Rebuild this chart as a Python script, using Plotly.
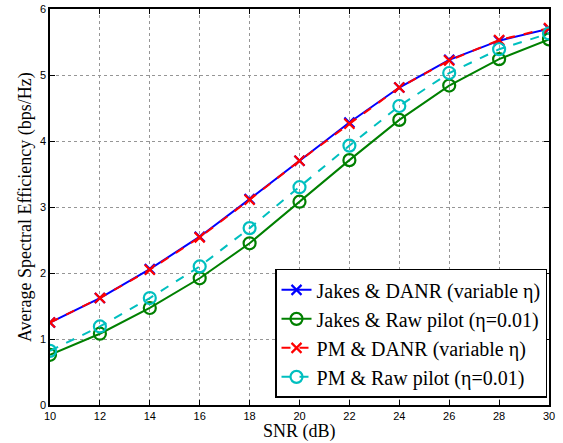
import plotly.graph_objects as go

# SNR sweep (dB)
snr = [10, 12, 14, 16, 18, 20, 22, 24, 26, 28, 30]

# Average spectral efficiency (bps/Hz) per scheme
jakes_danr = [1.25, 1.62, 2.06, 2.55, 3.12, 3.70, 4.28, 4.81, 5.23, 5.52, 5.70]
jakes_raw = [0.76, 1.08, 1.47, 1.92, 2.45, 3.08, 3.71, 4.32, 4.84, 5.24, 5.54]
pm_danr = [1.25, 1.62, 2.05, 2.54, 3.11, 3.70, 4.26, 4.81, 5.22, 5.53, 5.71]
pm_raw = [0.82, 1.19, 1.62, 2.10, 2.68, 3.30, 3.93, 4.53, 5.03, 5.39, 5.63]

x_ticks = [10, 12, 14, 16, 18, 20, 22, 24, 26, 28, 30]
y_ticks = [0, 1, 2, 3, 4, 5, 6]

x_title = "SNR (dB)"
y_title = "Average Spectral Efficiency (bps/Hz)"

SERIF = "Liberation Serif"
SANS = "Liberation Sans"

series = [
    ("Jakes & DANR (variable η)", jakes_danr, "rgb(0,0,255)", "solid", "x-thin", 10),
    ("Jakes & Raw pilot (η=0.01)", jakes_raw, "rgb(0,128,0)", "solid", "circle-open", 12),
    ("PM & DANR (variable η)", pm_danr, "rgb(255,0,0)", "dash", "x-thin", 10),
    ("PM & Raw pilot (η=0.01)", pm_raw, "rgb(0,191,191)", "dash", "circle-open", 12),
]

fig = go.Figure()
for name, ys, color, dash, symbol, size in series:
    fig.add_trace(go.Scatter(
        x=snr, y=ys, name=name, mode="lines+markers",
        line=dict(color=color, width=2, dash=dash),
        marker=dict(symbol=symbol, size=size, color=color,
                    line=dict(color=color, width=2.2)),
    ))

axis_common = dict(
    showline=True, linecolor="black", linewidth=1.5, mirror="ticks",
    ticks="inside", ticklen=5, tickcolor="black",
    showgrid=True, gridcolor="rgb(150,150,150)", griddash="dot", gridwidth=1,
    zeroline=False,
    tickfont=dict(family=SANS, size=11, color="black"),
)

fig.update_xaxes(range=[10, 30], tickvals=x_ticks, **axis_common)
fig.update_yaxes(range=[0, 6], tickvals=y_ticks, **axis_common)

# Axis titles in serif type
fig.add_annotation(text=x_title, xref="paper", yref="paper", x=0.5, y=-0.068,
                   xanchor="center", yanchor="middle", showarrow=False, borderpad=0,
                   font=dict(family=SERIF, size=18, color="black"))
fig.add_annotation(text=y_title, xref="paper", yref="paper", x=-0.05, y=0.5,
                   xanchor="center", yanchor="middle", showarrow=False, textangle=-90,
                   font=dict(family=SERIF, size=18, color="black"))

fig.update_layout(
    template="none",
    width=563, height=443,
    margin=dict(l=50, r=14, t=9, b=38),
    paper_bgcolor="white", plot_bgcolor="white",
    font=dict(family=SERIF, color="black"),
    showlegend=True,
    legend=dict(
        x=0.996, y=0.018, xanchor="right", yanchor="bottom",
        bgcolor="white", bordercolor="black", borderwidth=1.5,
        font=dict(family=SERIF, size=20, color="black"),
        itemwidth=30, tracegroupgap=0,
    ),
)

fig.write_html("out.html")
